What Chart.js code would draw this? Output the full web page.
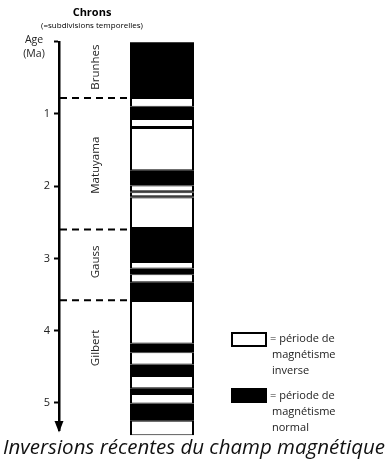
<!DOCTYPE html>
<html>
<head>
<meta charset="utf-8">
<script src="https://cdn.jsdelivr.net/npm/chart.js@4/dist/chart.umd.min.js"></script>
<style>
  body { margin: 0; background: #fff; }
  #wrap { width: 389px; height: 462px; }
</style>
</head>
<body>
<div id="wrap"><canvas id="chrons" width="389" height="462"></canvas></div>
<script>
// limites des periodes (Ma), alternance normal / inverse
var limits = [0, 0.78, 0.90, 1.07, 1.18, 1.195, 1.78, 1.99, 2.07, 2.085, 2.14, 2.155, 2.58,
  3.05, 3.14, 3.22, 3.33, 3.59, 4.18, 4.30, 4.47, 4.63, 4.80, 4.88, 5.01, 5.25, 5.45];
var polarity = ['N', 'R', 'N', 'R', 'N', 'R', 'N', 'R', 'N', 'R', 'N', 'R',
  'N', 'R', 'N', 'R', 'N', 'R', 'N', 'R', 'N', 'R', 'N', 'R', 'N', 'R'];

var tickValues = [0, 1, 2, 3, 4, 5];
var tickLabels = ['', '1', '2', '3', '4', '5'];

// chrons : limites et position des noms
var chronNames = ['Brunhes', 'Matuyama', 'Gauss', 'Gilbert'];
var chronLabelAt = [0.35, 1.71, 3.05, 4.24];
var chronBounds = [0.78, 2.6, 3.58];

var datasets = [];
for (var i = 0; i < polarity.length; i++) {
	var normal = polarity[i] == 'N';
	datasets.push({
		data : [ [ limits[i], limits[i + 1] ] ],
		backgroundColor : normal ? '#000' : '#fff',
		borderColor : '#000',
		borderWidth : normal ? 0 : { top : 1, bottom : 1, left : 2, right : 2 },
		borderSkipped : false,
		grouped : false,
		categoryPercentage : 1,
		barPercentage : 64 / 206,
		clip : false
	});
}

var font = "'Open Sans', sans-serif";

var decor = {
	id : 'decor',
	afterDraw : function(chart) {
		var ctx = chart.ctx;
		var y = chart.scales.y;
		var area = chart.chartArea;
		var bar = chart.getDatasetMeta(0).data[0];
		var barLeft = bar.x - bar.width / 2;
		ctx.save();

		// titre
		ctx.fillStyle = '#000';
		ctx.textAlign = 'center';
		ctx.textBaseline = 'middle';
		ctx.font = 'bold 11px ' + font;
		ctx.fillText('Chrons', 92, 13);
		ctx.font = '8px ' + font;
		ctx.fillText('(=subdivisions temporelles)', 92, 26);

		ctx.font = '10.5px ' + font;
		ctx.fillStyle = '#222';
		ctx.fillText('Age', 34, 40);
		ctx.fillText('(Ma)', 34, 54);

		// limites des chrons
		ctx.strokeStyle = '#000';
		ctx.lineWidth = 2;
		ctx.setLineDash([ 7, 5 ]);
		chronBounds.forEach(function(v) {
			var py = y.getPixelForValue(v);
			ctx.beginPath();
			ctx.moveTo(area.left + 1, py);
			ctx.lineTo(barLeft, py);
			ctx.stroke();
		});
		ctx.setLineDash([]);

		// noms des chrons
		ctx.font = '11.5px ' + font;
		ctx.fillStyle = '#222';
		chronNames.forEach(function(name, k) {
			ctx.save();
			ctx.translate(96, y.getPixelForValue(chronLabelAt[k]));
			ctx.rotate(-Math.PI / 2);
			ctx.fillText(name, 0, 0);
			ctx.restore();
		});

		// fleche
		ctx.fillStyle = '#000';
		ctx.beginPath();
		ctx.moveTo(area.left - 4.5, 421);
		ctx.lineTo(area.left + 4.5, 421);
		ctx.lineTo(area.left, 432.5);
		ctx.closePath();
		ctx.fill();

		// legende
		ctx.fillStyle = '#fff';
		ctx.fillRect(232, 333, 34, 13);
		ctx.lineWidth = 2;
		ctx.strokeRect(232, 333, 34, 13);
		ctx.fillStyle = '#000';
		ctx.fillRect(231, 388, 36, 15);

		ctx.font = '11px ' + font;
		ctx.fillStyle = '#222';
		ctx.textAlign = 'left';
		ctx.fillText('= période de', 270, 339);
		ctx.fillText('magnétisme', 272, 355);
		ctx.fillText('inverse', 272, 371);
		ctx.fillText('= période de', 270, 396);
		ctx.fillText('magnétisme', 272, 412);
		ctx.fillText('normal', 272, 428);

		// legende du bas
		ctx.fillStyle = '#111';
		ctx.textAlign = 'center';
		var caption = 'Inversions récentes du champ magnétique';
		ctx.font = 'italic 20px ' + font;
		var w = ctx.measureText(caption).width;
		var size = 20 * 382 / w;
		ctx.font = 'italic ' + size.toFixed(2) + 'px ' + font;
		ctx.fillText(caption, 194, 448);

		ctx.restore();
	}
};

var chart = new Chart(document.getElementById('chrons'), {
	type : 'bar',
	data : {
		labels : [ '' ],
		datasets : datasets
	},
	options : {
		responsive : false,
		animation : false,
		layout : {
			padding : { top : 41.8, bottom : 31.8, left : 0, right : 124 }
		},
		plugins : {
			legend : { display : false },
			tooltip : { enabled : false }
		},
		scales : {
			x : { display : false },
			y : {
				reverse : true,
				min : 0,
				max : 5.38,
				afterFit : function(s) {
					s.width = 59;
				},
				afterBuildTicks : function(s) {
					s.ticks = tickValues.map(function(v) {
						return { value : v };
					});
				},
				ticks : {
					padding : 4,
					color : '#222',
					font : { family : 'Open Sans', size : 11 },
					callback : function(v) {
						return tickLabels[tickValues.indexOf(v)];
					}
				},
				grid : {
					drawOnChartArea : false,
					drawTicks : true,
					tickLength : 5,
					tickWidth : 2,
					tickColor : '#000'
				},
				border : { display : true, color : '#000', width : 2.5 }
			}
		}
	},
	plugins : [ decor ]
});
</script>
</body>
</html>
